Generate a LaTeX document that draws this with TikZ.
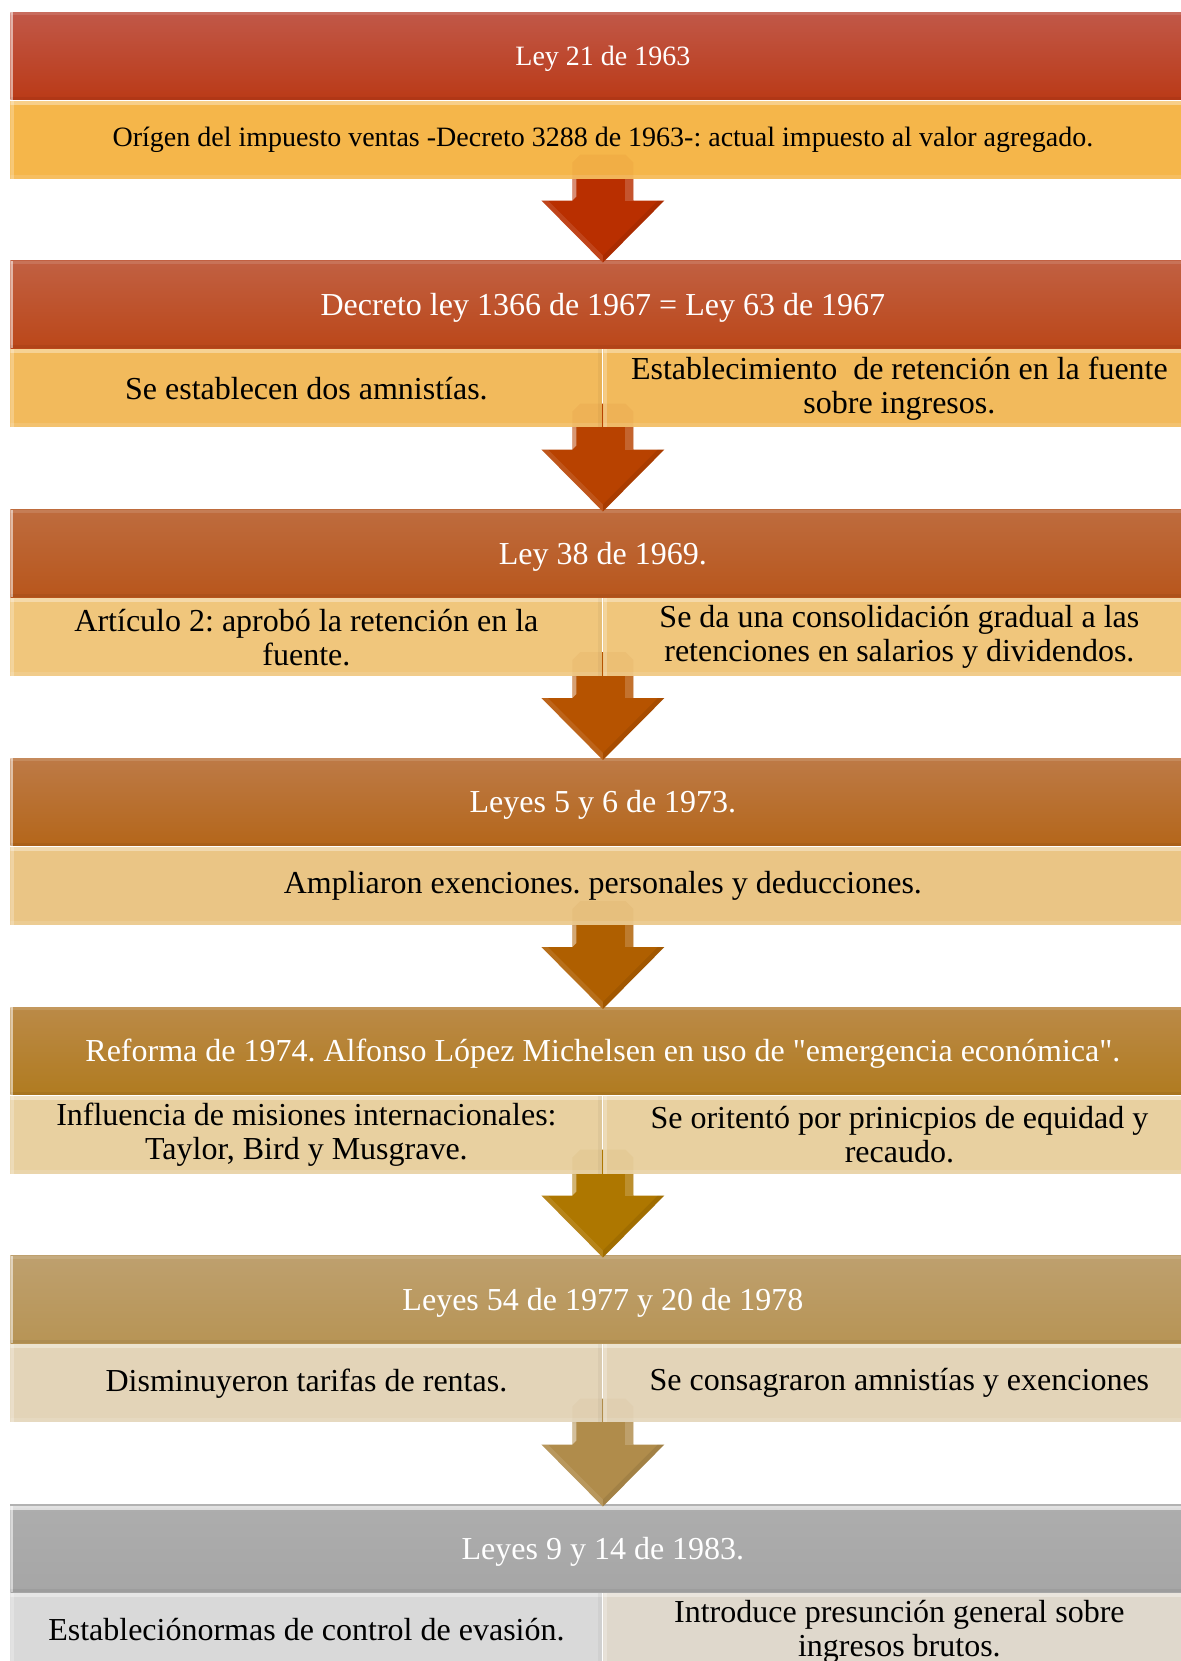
\documentclass[tikz,border=0pt]{standalone}
\usepackage{fontspec}
\setmainfont{Liberation Serif}
\usetikzlibrary{calc,shadings}
\frenchspacing

% band colours (top / bottom of the shaded title bars)
\definecolor{hAt}{HTML}{C15848}\definecolor{hAb}{HTML}{BA3A17}
\definecolor{hBt}{HTML}{C16042}\definecolor{hBb}{HTML}{BB4719}
\definecolor{hCt}{HTML}{BE6C3E}\definecolor{hCb}{HTML}{B8561C}
\definecolor{hDt}{HTML}{BD7A46}\definecolor{hDb}{HTML}{B4661A}
\definecolor{hEt}{HTML}{BB8A47}\definecolor{hEb}{HTML}{B07B20}
\definecolor{hFt}{HTML}{BEA06E}\definecolor{hFb}{HTML}{B79455}
\definecolor{hGt}{HTML}{ADADAD}\definecolor{hGb}{HTML}{A6A6A6}
% detail boxes
\definecolor{sA}{HTML}{F5B64A}
\definecolor{sB}{HTML}{F2BA5C}
\definecolor{sC}{HTML}{F0C67C}
\definecolor{sD}{HTML}{EAC585}
\definecolor{sE}{HTML}{E8D0A0}
\definecolor{sF}{HTML}{E3D4B8}
\definecolor{sGa}{HTML}{D9D9D9}
\definecolor{sGb}{HTML}{DFD8CC}
% arrows
\definecolor{aA}{HTML}{B92F00}
\definecolor{aB}{HTML}{B84200}
\definecolor{aC}{HTML}{B65300}
\definecolor{aD}{HTML}{AF5F00}
\definecolor{aE}{HTML}{AE7700}
\definecolor{aF}{HTML}{B08C4B}

\tikzset{
  hbevel/.style={path picture={
    \fill[white,opacity=.55] (path picture bounding box.north west) rectangle ($(path picture bounding box.south west)+(3,0)$);
    \fill[white,opacity=.12] (path picture bounding box.north west) rectangle ($(path picture bounding box.north east)+(0,3)$);
    \fill[black,opacity=.05] ($(path picture bounding box.south west)+(0,-3)$) rectangle (path picture bounding box.south east);
  }},
  sbevel/.style={path picture={
    \fill[white,opacity=.35] (path picture bounding box.north west) rectangle ($(path picture bounding box.north east)+(0,4)$);
    \fill[white,opacity=.25] (path picture bounding box.north west) rectangle ($(path picture bounding box.south west)+(4,0)$);
    \fill[white,opacity=.12] ($(path picture bounding box.south west)+(0,-4)$) rectangle (path picture bounding box.south east);
    \fill[black,opacity=.04] ($(path picture bounding box.north east)+(-4,0)$) rectangle (path picture bounding box.south east);
  }},
  band/.style={draw=none, inner sep=0pt, anchor=north west, text=white,
    font=\fontsize{16}{17}\selectfont, text height=10.6pt, text depth=0pt,
    minimum width=592.5pt, minimum height=43.75pt, hbevel},
  subfull/.style={draw=none, inner sep=0pt, anchor=north west, text=black, align=center,
    font=\fontsize{16}{17}\selectfont, minimum width=592.5pt, minimum height=39pt, sbevel},
  subhalf/.style={subfull, minimum width=296pt},
  downarrow/.pic={
    \fill[#1] (-30.5,-100) -- (-22.5,-108) -- (22.5,-108) -- (30.5,-100) -- (30.5,-62)
      -- (61.5,-62) -- (0,0) -- (-61.5,-62) -- (-30.5,-62) -- cycle;
    \fill[white,opacity=.45] (-30.5,-100) -- (-26.5,-100) -- (-26.5,-66) -- (-30.5,-62) -- cycle;
    \fill[white,opacity=.18] (30.5,-100) -- (22.5,-100) -- (22.5,-62) -- (30.5,-62) -- cycle;
    \fill[black,opacity=.08] (0,0) -- (61.5,-62) -- (55,-62) -- (0,-7) -- cycle;
    \fill[white,opacity=.10] (0,0) -- (-61.5,-62) -- (-55,-62) -- (0,-7) -- cycle;
  },
  shaftglow/.pic={
    \fill[#1,opacity=.06] (-30.5,-100) -- (-22.5,-108) -- (22.5,-108) -- (30.5,-100) -- (30.5,-83) -- (-30.5,-83) -- cycle;
  },
}

\begin{document}
\begin{tikzpicture}[x=0.5pt,y=-0.5pt]
\useasboundingbox (0,0) rectangle (1181,1661);
\clip (0,0) rectangle (1181,1661);
\fill[white] (0,0) rectangle (1181,1661);

% title bars
\node[band, top color=hAt, bottom color=hAb, font=\fontsize{14}{16}\selectfont, text height=9.4pt] (h1) at (10,12) {Ley 21 de 1963};
\node[band, top color=hBt, bottom color=hBb] (h2) at (10,260.5) {Decreto ley 1366 de 1967 = Ley 63 de 1967};
\node[band, top color=hCt, bottom color=hCb] (h3) at (10,509.5) {Ley 38 de 1969.};
\node[band, top color=hDt, bottom color=hDb] (h4) at (10,758) {Leyes 5 y 6 de 1973.};
\node[band, top color=hEt, bottom color=hEb] (h5) at (10,1007) {Reforma de 1974. Alfonso López Michelsen en uso de \textquotedbl emergencia económica\textquotedbl.};
\node[band, top color=hFt, bottom color=hFb] (h6) at (10,1255.5) {Leyes 54 de 1977 y 20 de 1978};
\node[band, top color=hGt, bottom color=hGb] (h7) at (10,1504.5) {Leyes 9 y 14 de 1983.};
\draw[black!30, line width=1pt] (h7.north west) -- (h7.north east);
\fill[white,opacity=.6] ($(h7.north west)+(0,1)$) rectangle ($(h7.north east)+(0,5)$);

% arrows between the stages
\pic at ($(h2.north)+(0,2)$) {downarrow=aA};
\pic at ($(h3.north)+(0,2)$) {downarrow=aB};
\pic at ($(h4.north)+(0,2)$) {downarrow=aC};
\pic at ($(h5.north)+(0,2)$) {downarrow=aD};
\pic at ($(h6.north)+(0,2)$) {downarrow=aE};
\pic at ($(h7.north)+(0,2)$) {downarrow=aF};

% detail boxes
\node[subfull, fill=sA, font=\fontsize{14}{16}\selectfont] (s1) at (h1.south west)
  {Orígen del impuesto ventas -Decreto 3288 de 1963-: actual impuesto al valor agregado.};

\node[subhalf, fill=sB] (s2a) at (h2.south west) {Se establecen dos amnistías.};
\node[subhalf, fill=sB] (s2b) at ($(h2.south west)+(593,0)$) {Establecimiento\ \ de retención en la fuente\\sobre ingresos.};

\node[subhalf, fill=sC] (s3a) at (h3.south west) {Artículo 2: aprobó la retención en la\\fuente.};
\node[subhalf, fill=sC] (s3b) at ($(h3.south west)+(593,0)$) {Se da una consolidación gradual a las\\retenciones en salarios y dividendos.};

\node[subfull, fill=sD] (s4) at (h4.south west) {Ampliaron exenciones. personales y deducciones.};

\node[subhalf, fill=sE] (s5a) at (h5.south west) {Influencia de misiones internacionales:\\Taylor, Bird y Musgrave.};
\node[subhalf, fill=sE] (s5b) at ($(h5.south west)+(593,0)$) {Se oritentó por prinicpios de equidad y\\recaudo.};

\node[subhalf, fill=sF] (s6a) at (h6.south west) {Disminuyeron tarifas de rentas.};
\node[subhalf, fill=sF] (s6b) at ($(h6.south west)+(593,0)$) {Se consagraron amnistías y exenciones};

\node[subhalf, fill=sGa] (s7a) at (h7.south west) {\raisebox{2.5pt}{Estableciónormas de control de evasión.}};
\node[subhalf, fill=sGb] (s7b) at ($(h7.south west)+(593,0)$) {Introduce presunción general sobre\\ingresos brutos.};

% arrow shafts showing faintly through the boxes above them
\pic at ($(h2.north)+(0,2)$) {shaftglow=aA};
\pic at ($(h3.north)+(0,2)$) {shaftglow=aB};
\pic at ($(h4.north)+(0,2)$) {shaftglow=aC};
\pic at ($(h5.north)+(0,2)$) {shaftglow=aD};
\pic at ($(h6.north)+(0,2)$) {shaftglow=aE};
\pic at ($(h7.north)+(0,2)$) {shaftglow=aF};
\end{tikzpicture}
\end{document}
